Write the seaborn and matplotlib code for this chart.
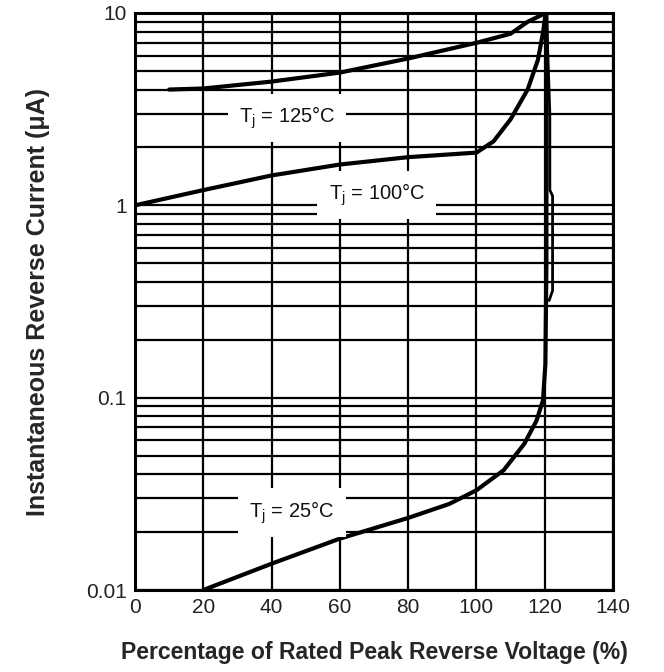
import numpy as np
import matplotlib
matplotlib.use("Agg")
import matplotlib.pyplot as plt
import seaborn as sns
from matplotlib.ticker import LogLocator, NullFormatter, FixedLocator

# curve data (% rated voltage, uA)
x_25 = [20, 40, 60, 80, 92, 100, 108, 114, 117.6, 119.5, 120.2, 120.5, 120.5]
y_25 = [0.01, 0.0137, 0.0185, 0.0237, 0.028, 0.033, 0.042, 0.0575, 0.076, 0.097, 0.15, 0.5, 10]

x_100 = [0, 20, 40, 60, 80, 100, 105, 110, 115, 118, 119.5, 120.3]
y_100 = [1.0, 1.2, 1.43, 1.63, 1.78, 1.88, 2.15, 2.8, 4.0, 5.7, 7.9, 10]

x_125 = [10, 20, 40, 60, 80, 100, 110, 115, 120.3]
y_125 = [4.0, 4.05, 4.4, 4.9, 5.8, 7.0, 7.8, 9.0, 10]

# thin breakdown trace next to the vertical part
x_tail = [120.6, 121.5, 121.5, 122.3, 122.3, 121.3]
y_tail = [9.0, 3.0, 1.2, 1.12, 0.36, 0.32]

labels = ["T$_\\mathrm{j}$ = 125°C", "T$_\\mathrm{j}$ = 100°C", "T$_\\mathrm{j}$ = 25°C"]
label_x = [44.5, 70.8, 46]
label_y = [2.84, 1.13, 0.0252]

x_ticks = [0, 20, 40, 60, 80, 100, 120, 140]
y_ticks = [0.01, 0.1, 1, 10]
y_ticklabels = ["0.01", "0.1", "1", "10"]

sns.set_style("white")
plt.rcParams["font.family"] = ["Liberation Sans", "DejaVu Sans"]
plt.rcParams["mathtext.fontset"] = "custom"
plt.rcParams["mathtext.rm"] = "Liberation Sans"
plt.rcParams["mathtext.it"] = "Liberation Sans:italic"

fig = plt.figure(figsize=(6.64, 6.72), dpi=100)
ax = fig.add_axes([135 / 664, 1 - 590 / 672, 478 / 664, 577 / 672])

ax.set_yscale("log")
ax.set_xlim(0, 140)
ax.set_ylim(0.01, 10)

ax.xaxis.set_major_locator(FixedLocator(x_ticks))
ax.yaxis.set_major_locator(FixedLocator(y_ticks))
ax.yaxis.set_minor_locator(LogLocator(base=10, subs=np.arange(2, 10)))
ax.yaxis.set_minor_formatter(NullFormatter())
ax.set_yticklabels(y_ticklabels)
ax.grid(True, which="both", axis="y", color="black", lw=1.6)
ax.grid(True, which="major", axis="x", color="black", lw=1.6)
ax.set_axisbelow(True)
ax.tick_params(which="both", length=0, labelsize=15, pad=6, colors="#222222")
for s in ax.spines.values():
    s.set_color("black")
    s.set_linewidth(2.2)

for xs, ys in [(x_25, y_25), (x_100, y_100), (x_125, y_125)]:
    sns.lineplot(x=xs, y=ys, sort=False, estimator=None, color="black",
                 lw=3, ax=ax, zorder=3)
sns.lineplot(x=x_tail, y=y_tail, sort=False, estimator=None, color="black",
             lw=2, ax=ax, zorder=3)

for t, lx, ly in zip(labels, label_x, label_y):
    ax.text(lx, ly, t, ha="center", va="center", fontsize=14.5, zorder=4,
            color="#111111",
            bbox=dict(facecolor="white", edgecolor="none", pad=8))

ax.set_xlabel("Percentage of Rated Peak Reverse Voltage (%)", fontsize=16.6,
              fontweight="bold", labelpad=17)
ax.set_ylabel("Instantaneous Reverse Current (μA)", fontsize=18,
              fontweight="bold", labelpad=26)

fig.savefig("out.png", dpi=100)
